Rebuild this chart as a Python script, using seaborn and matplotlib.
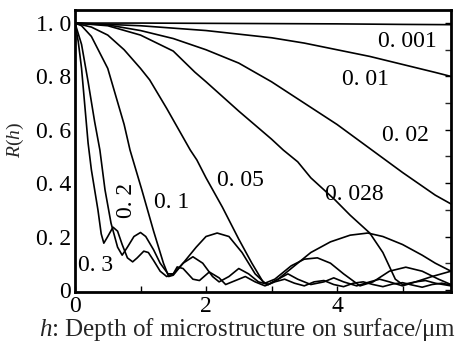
import matplotlib
matplotlib.use("Agg")
import matplotlib.pyplot as plt
import seaborn as sns
import pandas as pd

# Reflectance R(h) against the depth h (um) of the surface microstructure,
# one curve per roughness parameter.
h_0001 = [0.0, 1.0, 2.0, 3.0, 4.0, 5.0, 5.74]
r_0001 = [1.0, 1.0, 0.999, 0.998, 0.997, 0.995, 0.994]

h_001 = [0.0, 1.0, 2.0, 3.0, 3.5, 4.0, 4.5, 5.0, 5.5, 5.74]
r_001 = [1.0, 0.99, 0.972, 0.945, 0.925, 0.90, 0.875, 0.845, 0.815, 0.80]

h_002 = [0.0, 0.5, 1.0, 1.5, 2.0, 2.5, 3.0, 3.5, 4.0, 4.5, 5.0, 5.5, 5.74]
r_002 = [1.0, 0.993, 0.972, 0.942, 0.90, 0.85, 0.78, 0.70, 0.62, 0.53, 0.44, 0.355, 0.322]

h_0028 = [0.0, 0.5, 1.0, 1.5, 1.83, 2.0, 2.5, 3.0, 3.18, 3.4, 3.6, 3.97, 4.2, 4.5,
          4.7, 4.89, 5.0, 5.2, 5.45, 5.74]
r_0028 = [1.0, 0.99, 0.955, 0.895, 0.816, 0.78, 0.67, 0.565, 0.524, 0.48, 0.42, 0.337,
          0.28, 0.213, 0.14, 0.04, 0.02, 0.03, 0.05, 0.07]

h_005 = [0.0, 0.25, 0.5, 0.75, 1.0, 1.14, 1.4, 1.76, 1.86, 2.0, 2.25, 2.5, 2.7, 2.87,
         2.95, 3.1, 3.3, 3.6, 3.9, 4.2, 4.47, 4.7, 5.0, 5.3, 5.5, 5.74]
r_005 = [1.0, 0.985, 0.955, 0.90, 0.83, 0.787, 0.68, 0.524, 0.487, 0.42, 0.31, 0.19,
         0.10, 0.03, 0.02, 0.04, 0.08, 0.14, 0.18, 0.205, 0.213, 0.20, 0.17, 0.13, 0.10, 0.07]

h_01 = [0.0, 0.1, 0.25, 0.5, 0.75, 0.84, 1.02, 1.2, 1.35, 1.43, 1.5, 1.65, 1.85, 2.0,
        2.17, 2.35, 2.55, 2.75, 2.9, 3.05, 3.3, 3.5, 3.7, 3.9, 4.1, 4.35, 4.55, 4.8,
        5.05, 5.3, 5.55, 5.74]
r_01 = [1.0, 0.99, 0.95, 0.83, 0.62, 0.524, 0.375, 0.22, 0.10, 0.05, 0.055, 0.10, 0.16,
        0.20, 0.213, 0.20, 0.14, 0.06, 0.025, 0.04, 0.09, 0.115, 0.12, 0.10, 0.06, 0.015,
        0.03, 0.07, 0.085, 0.07, 0.04, 0.02]

h_02 = [0.0, 0.1, 0.2, 0.3, 0.38, 0.458, 0.55, 0.65, 0.72, 0.8, 0.9, 1.0, 1.08, 1.2,
        1.3, 1.42, 1.5, 1.65, 1.8, 1.95, 2.1, 2.2, 2.35, 2.5, 2.65, 2.8, 2.95, 3.1,
        3.25, 3.4, 3.6, 3.8, 3.95, 4.1, 4.3, 4.5, 4.65, 4.8, 5.0, 5.2, 5.35, 5.5, 5.74]
r_02 = [1.0, 0.92, 0.78, 0.63, 0.524, 0.375, 0.25, 0.16, 0.13, 0.16, 0.20, 0.215, 0.20,
        0.15, 0.10, 0.06, 0.06, 0.10, 0.124, 0.10, 0.05, 0.03, 0.05, 0.08, 0.06, 0.03,
        0.02, 0.04, 0.06, 0.04, 0.02, 0.03, 0.045, 0.03, 0.015, 0.03, 0.04, 0.03, 0.015,
        0.03, 0.035, 0.025, 0.015]

h_03 = [0.0, 0.05, 0.1, 0.15, 0.2, 0.25, 0.3, 0.35, 0.4, 0.44, 0.5, 0.58, 0.65, 0.72,
        0.8, 0.88, 0.95, 1.05, 1.12, 1.2, 1.3, 1.4, 1.5, 1.56, 1.65, 1.8, 1.9, 2.05,
        2.2, 2.3, 2.45, 2.6, 2.75, 2.9, 3.05, 3.2, 3.35, 3.5, 3.65, 3.8, 3.95, 4.1,
        4.25, 4.4, 4.55, 4.7, 4.85, 5.0, 5.15, 5.3, 5.45, 5.6, 5.74]
r_03 = [1.0, 0.93, 0.83, 0.69, 0.55, 0.45, 0.375, 0.30, 0.21, 0.175, 0.20, 0.235, 0.22,
        0.17, 0.12, 0.105, 0.12, 0.145, 0.14, 0.11, 0.07, 0.05, 0.06, 0.086, 0.08, 0.04,
        0.035, 0.067, 0.045, 0.02, 0.035, 0.05, 0.03, 0.015, 0.03, 0.04, 0.025, 0.015,
        0.03, 0.035, 0.02, 0.012, 0.025, 0.03, 0.02, 0.012, 0.022, 0.027, 0.018, 0.01,
        0.02, 0.025, 0.018]

curve_names = ["0. 001", "0. 01", "0. 02", "0. 028", "0. 05", "0. 1", "0. 2", "0. 3"]
curve_h = [h_0001, h_001, h_002, h_0028, h_005, h_01, h_02, h_03]
curve_r = [r_0001, r_001, r_002, r_0028, r_005, r_01, r_02, r_03]

# label anchor (h, R) for each curve
label_h = [5.07, 4.43, 5.04, 4.27, 2.53, 1.48, 0.79, 0.32]
label_r = [0.93, 0.787, 0.58, 0.356, 0.41, 0.326, 0.337, 0.09]
label_rot = [0, 0, 0, 0, 0, 0, 90, 0]

ytick_vals = [0.0, 0.2, 0.4, 0.6, 0.8, 1.0]
ytick_text = ["0", "0. 2", "0. 4", "0. 6", "0. 8", "1. 0"]
xtick_vals = [0, 1, 2, 3, 4, 5]
xtick_text = ["0", "", "2", "", "4", ""]

frames = []
for name, hs, rs in zip(curve_names, curve_h, curve_r):
    frames.append(pd.DataFrame({"h": hs, "R": rs, "curve": name}))
data = pd.concat(frames, ignore_index=True)

sns.set_theme(style="white")
plt.rcParams["font.family"] = ["Liberation Serif", "DejaVu Serif"]
plt.rcParams["mathtext.fontset"] = "custom"
plt.rcParams["mathtext.rm"] = "Liberation Serif"
plt.rcParams["mathtext.it"] = "Liberation Serif:italic"

fig = plt.figure(figsize=(4.61, 3.45), dpi=100)
ax = fig.add_axes([75 / 461, 1 - 292 / 345, 376 / 461, 282 / 345])

sns.lineplot(data=data, x="h", y="R", hue="curve", units="curve", estimator=None,
             sort=False, palette=["black"] * len(curve_names), linewidth=1.2,
             legend=False, ax=ax)

for name, lh, lr, rot in zip(curve_names, label_h, label_r, label_rot):
    ax.text(lh, lr, name, fontsize=17, ha="center", va="center", rotation=rot,
            color="black")

ax.set_xlim(0, 5.74)
ax.set_ylim(-0.008, 1.049)
ax.set_yticks(ytick_vals)
ax.set_yticklabels(ytick_text)
ax.set_xticks(xtick_vals)
ax.set_xticklabels(xtick_text)
ax.set_yticks([0.1, 0.3, 0.5, 0.7, 0.9], minor=True)
ax.tick_params(axis="both", which="major", direction="in", length=4, width=1,
               labelsize=17, pad=3, colors="black")
ax.tick_params(axis="y", which="both", right=True, direction="in", length=4, width=1)
ax.tick_params(axis="x", which="both", bottom=True)
ax.tick_params(axis="y", which="minor", left=False)

for side in ax.spines.values():
    side.set_visible(True)
    side.set_color("black")
    side.set_linewidth(2.0)

ax.set_xlabel(r"$h$: Depth of microstructure on surface/μm", fontsize=18)
ax.set_ylabel(r"$R(h)$", fontsize=14)
ax.xaxis.set_label_coords((248 - 75) / 376, (292 - 316) / 282)
ax.yaxis.set_label_coords((26 - 75) / 376, (292 - 140) / 282)

fig.savefig("out.png", dpi=100, facecolor="white")
